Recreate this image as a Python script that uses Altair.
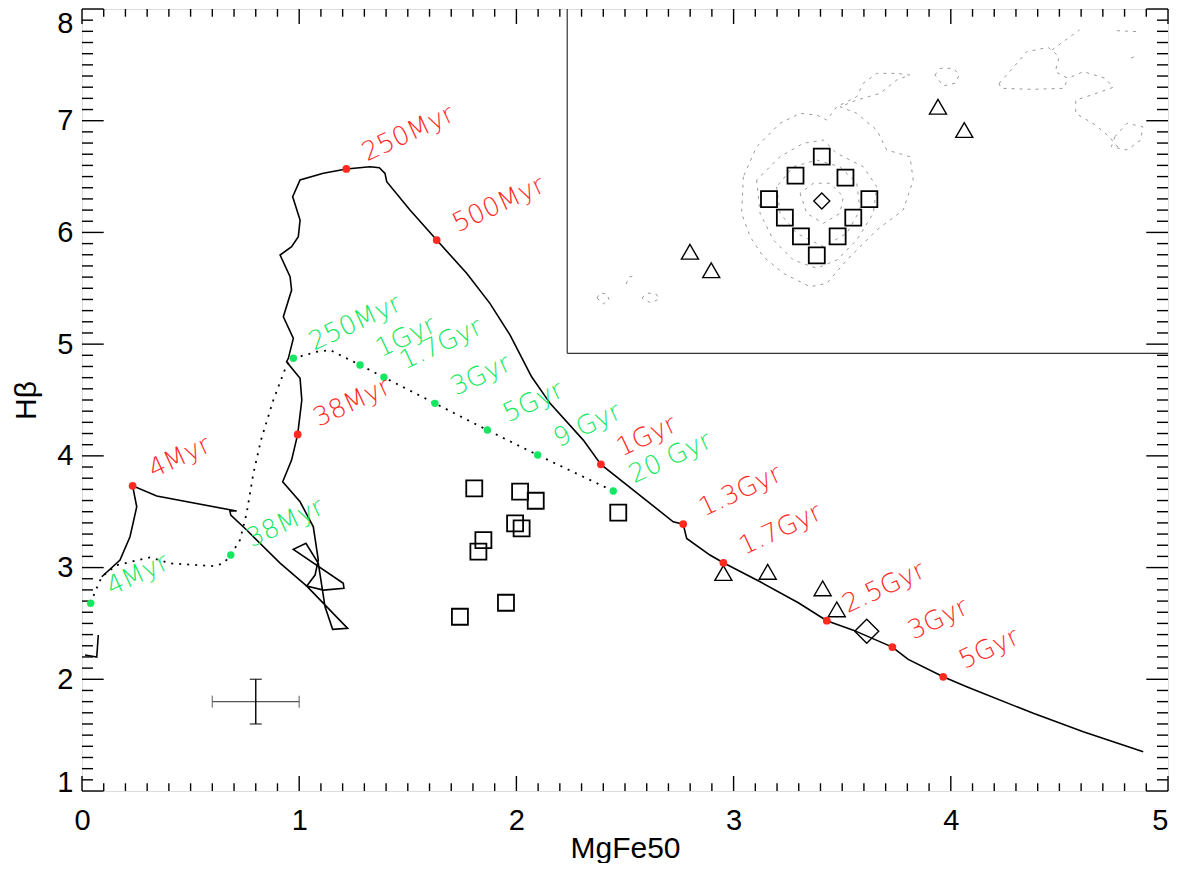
import altair as alt
import pandas as pd

W, H = 1086, 782
FONT = "Liberation Sans"
LFONT = "DejaVu Sans"
RED = "#ff2a1f"
GREEN = "#14e860"

# ---------------- axis ticks ----------------
x_major = [0, 1, 2, 3, 4, 5]
y_major = [1, 2, 3, 4, 5, 6, 7, 8]
x_minor = [round(i * 0.1, 1) for i in range(1, 50) if i % 10]
y_minor = [round(1 + i * 0.1, 1) for i in range(1, 70) if i % 10]

# ---------------- model track 1 (solid, red ages) ----------------
track_x = [0.091, 0.175, 0.221, 0.252, 0.233, 0.344, 0.712, 0.681, 0.685, 0.758,
           0.912, 1.035, 1.223, 1.154, 1.119, 1.088, 1.031, 0.973, 1.203, 1.206,
           1.111, 1.035, 1.073, 1.088, 1.065, 1.004, 0.924, 0.965, 0.993, 1.012,
           1.004, 0.942, 0.950, 0.973, 0.927, 0.965, 0.958, 0.912, 0.965, 0.996,
           1.004, 0.970, 1.004, 1.111, 1.217, 1.326, 1.369, 1.395, 1.403, 1.510,
           1.633, 1.771, 1.878, 1.971, 2.070, 2.155, 2.308, 2.389, 2.722, 2.768,
           2.784, 2.891, 2.953, 3.122, 3.298, 3.429, 3.551, 3.731, 3.789, 3.804,
           3.965, 4.073, 4.380, 4.610, 4.886]
track_y = [2.918, 3.067, 3.276, 3.544, 3.732, 3.640, 3.506, 3.506, 3.470, 3.336,
           3.040, 2.834, 2.456, 2.447, 2.649, 3.038, 3.217, 3.163, 2.859, 2.814,
           2.798, 2.834, 2.933, 3.067, 3.365, 3.589, 3.768, 3.962, 4.192, 4.500,
           4.694, 4.842, 4.873, 5.052, 5.245, 5.484, 5.603, 5.798, 5.872, 5.962,
           6.111, 6.320, 6.469, 6.529, 6.568, 6.588, 6.579, 6.529, 6.454, 6.201,
           5.932, 5.634, 5.365, 5.081, 4.708, 4.470, 4.141, 3.924, 3.410, 3.389,
           3.261, 3.112, 3.043, 2.873, 2.685, 2.524, 2.440, 2.288, 2.201, 2.178,
           2.022, 1.933, 1.695, 1.530, 1.351]
stub_x = [0.075, 0.068, 0.014]
stub_y = [2.396, 2.199, 2.217]

red_label = ["4Myr", "38Myr", "250Myr", "500Myr", "1Gyr", "1.3Gyr", "1.7Gyr",
             "2.5Gyr", "3Gyr", "5Gyr"]
red_x = [0.233, 0.993, 1.217, 1.633, 2.389, 2.768, 2.953, 3.429, 3.731, 3.965]
red_y = [3.732, 4.192, 6.568, 5.932, 3.924, 3.389, 3.043, 2.524, 2.288, 2.022]

# ---------------- model track 2 (dotted, green ages) ----------------
dot_x = [0.040, 0.060, 0.091, 0.160, 0.313, 0.405, 0.605, 0.651, 0.685, 0.727,
         0.758, 0.789, 0.824, 0.881, 0.942, 0.973, 1.081, 1.142, 1.280, 1.390,
         1.625, 1.866, 2.098, 2.446]
dot_y = [2.680, 2.783, 2.918, 3.022, 3.091, 3.038, 3.013, 3.038, 3.112, 3.246,
         3.485, 3.843, 4.141, 4.500, 4.813, 4.873, 4.932, 4.947, 4.813, 4.703,
         4.470, 4.231, 4.007, 3.685]

green_label = ["4Myr", "38Myr", "250Myr", "1Gyr", "1.7Gyr", "3Gyr", "5Gyr",
               "9 Gyr", "20 Gyr"]
green_x = [0.040, 0.685, 0.973, 1.280, 1.390, 1.625, 1.866, 2.098, 2.446]
green_y = [2.680, 3.112, 4.873, 4.813, 4.703, 4.470, 4.231, 4.007, 3.685]

# ---------------- observed points ----------------
sq_x = [1.806, 2.017, 2.089, 1.994, 2.024, 1.848, 1.825, 1.952, 1.740, 2.469]
sq_y = [3.709, 3.679, 3.598, 3.396, 3.351, 3.246, 3.142, 2.685, 2.560, 3.491]
tri_x = [2.953, 3.157, 3.410, 3.475]
tri_y = [2.951, 2.962, 2.814, 2.626]
dia_x = [3.613]
dia_y = [2.431]

# error bar
err_x, err_y, err_dx, err_dy = [0.8], [1.8], [0.2], [0.2]

# ---------------- inset ----------------
inset_left, inset_bottom = 2.234, 4.918
in_sq_x = [3.406, 3.285, 3.515, 3.163, 3.625, 3.236, 3.551, 3.310, 3.479, 3.383]
in_sq_y = [6.678, 6.508, 6.490, 6.299, 6.299, 6.132, 6.132, 5.965, 5.965, 5.795]
in_dia_x = [3.406]
in_dia_y = [6.281]
in_tri_x = [2.799, 2.897, 3.941, 4.062]
in_tri_y = [5.827, 5.661, 7.125, 6.917]

contours = [
    [(3.045, 6.499), (3.037, 6.171), (3.076, 5.962), (3.137, 5.782), (3.229, 5.634),
     (3.352, 5.514), (3.429, 5.544), (3.521, 5.753), (3.659, 6.021), (3.781, 6.201),
     (3.827, 6.469), (3.812, 6.678), (3.705, 6.738), (3.659, 6.917), (3.567, 7.066),
     (3.490, 7.125), (3.567, 7.185), (3.674, 7.245), (3.751, 7.364), (3.812, 7.409),
     (3.751, 7.424), (3.659, 7.424), (3.597, 7.335), (3.567, 7.215), (3.475, 7.125),
     (3.429, 7.006), (3.383, 7.051), (3.306, 7.066), (3.214, 6.977), (3.106, 6.767),
     (3.045, 6.499)],
    [(3.106, 6.469), (3.122, 6.171), (3.183, 5.932), (3.275, 5.753), (3.383, 5.679),
     (3.475, 5.753), (3.567, 5.932), (3.643, 6.171), (3.659, 6.409), (3.597, 6.588),
     (3.475, 6.708), (3.413, 6.827), (3.321, 6.798), (3.214, 6.678), (3.106, 6.469)],
    [(3.198, 6.409), (3.214, 6.171), (3.291, 5.992), (3.413, 5.872), (3.521, 5.992),
     (3.582, 6.201), (3.567, 6.440), (3.490, 6.588), (3.383, 6.648), (3.275, 6.588),
     (3.198, 6.409)],
    [(3.306, 6.350), (3.337, 6.171), (3.413, 6.081), (3.490, 6.171), (3.505, 6.320),
     (3.444, 6.440), (3.367, 6.440), (3.306, 6.350)],
    [(3.927, 7.409), (3.950, 7.469), (4.012, 7.469), (4.039, 7.409), (4.019, 7.335),
     (3.965, 7.311), (3.927, 7.409)],
    [(2.371, 5.413), (2.385, 5.458), (2.417, 5.449), (2.427, 5.395), (2.399, 5.359),
     (2.371, 5.413)],
    [(2.578, 5.413), (2.601, 5.458), (2.643, 5.449), (2.657, 5.404), (2.620, 5.368),
     (2.578, 5.413)],
    [(2.505, 5.538), (2.519, 5.601), (2.537, 5.610)],
    [(4.222, 7.335), (4.285, 7.469), (4.349, 7.618), (4.448, 7.657), (4.499, 7.573),
     (4.481, 7.439), (4.539, 7.380), (4.611, 7.439), (4.711, 7.380), (4.747, 7.299),
     (4.648, 7.230), (4.575, 7.185), (4.575, 7.066), (4.666, 6.962), (4.729, 6.857),
     (4.774, 6.753)],
    [(4.222, 7.335), (4.231, 7.290), (4.376, 7.281), (4.521, 7.290), (4.539, 7.380)],
    [(4.466, 7.633), (4.539, 7.738), (4.593, 7.812)],
    [(4.765, 7.806), (4.865, 7.797)],
    [(4.830, 7.561), (4.865, 7.588)],
    [(4.756, 6.857), (4.811, 6.977), (4.884, 6.946), (4.874, 6.827), (4.811, 6.738),
     (4.739, 6.767), (4.756, 6.857)],
]

# ---------------- scales / axes ----------------
xs = alt.Scale(domain=[0, 5], nice=False, zero=False)
ys = alt.Scale(domain=[1, 8], nice=False, zero=False)
x_axis = alt.Axis(values=x_major, title="MgFe50", grid=False, domain=False,
                  ticks=False, tickSize=0, labelPadding=15, labelFontSize=29,
                  labelFont=FONT, labelColor="black", labelFlush=False,
                  labelAlign={"condition": {"test": "datum.value == 5",
                                            "value": "right"},
                              "value": "center"},
                  titleFont=FONT, titleFontSize=30, titleFontWeight="normal",
                  titleColor="black", titleX=543, titleY=66,
                  titleBaseline="alphabetic", titleAlign="center", format="d")
y_axis = alt.Axis(values=y_major, title="Hβ", grid=False, domain=False,
                  ticks=False, tickSize=0, labelPadding=9, labelFontSize=29,
                  labelFont=FONT, labelColor="black", labelFlush=False,
                  labelBaseline={"condition": [
                      {"test": "datum.value == 8", "value": "top"},
                      {"test": "datum.value == 1", "value": "alphabetic"}],
                      "value": "middle"},
                  titleFont=FONT, titleFontSize=30, titleFontWeight="normal",
                  titleColor="black", titleX=-47, titleY=391, titleAngle=270,
                  titleBaseline="alphabetic", titleAlign="center", format="d")


def X(f):
    return alt.X(f"{f}:Q", scale=xs, axis=x_axis)


def Y(f):
    return alt.Y(f"{f}:Q", scale=ys, axis=y_axis)


# ---------------- data frames ----------------
track_df = pd.DataFrame({"x": track_x, "y": track_y, "i": range(len(track_x))})
stub_df = pd.DataFrame({"x": stub_x, "y": stub_y, "i": range(len(stub_x))})
dot_df = pd.DataFrame({"x": dot_x, "y": dot_y, "i": range(len(dot_x))})
red_df = pd.DataFrame({"x": red_x, "y": red_y, "label": red_label})
green_df = pd.DataFrame({"x": green_x, "y": green_y, "label": green_label})
sq_df = pd.DataFrame({"x": sq_x + in_sq_x, "y": sq_y + in_sq_y})
tri_df = pd.DataFrame({"x": tri_x + in_tri_x, "y": tri_y + in_tri_y})
dia_df = pd.DataFrame({"x": dia_x, "y": dia_y})
in_dia_df = pd.DataFrame({"x": in_dia_x, "y": in_dia_y})

rows = []
for g, path in enumerate(contours):
    for i, (cx, cy) in enumerate(path):
        rows.append({"g": g, "i": i, "x": cx, "y": cy})
cont_df = pd.DataFrame(rows)

inset_df = pd.DataFrame({
    "x": [inset_left, inset_left], "x2": [inset_left, 5.0],
    "y": [8.0, inset_bottom], "y2": [inset_bottom, inset_bottom]})

eh_df = pd.DataFrame({"x": [err_x[0] - err_dx[0]], "x2": [err_x[0] + err_dx[0]],
                      "y": err_y})
ev_df = pd.DataFrame({"x": err_x, "y": [err_y[0] - err_dy[0]],
                      "y2": [err_y[0] + err_dy[0]]})
ecap_h = pd.DataFrame({"x": [err_x[0] - err_dx[0], err_x[0] + err_dx[0]],
                       "y": [err_y[0], err_y[0]]})
ecap_v = pd.DataFrame({"x": [err_x[0], err_x[0]],
                       "y": [err_y[0] - err_dy[0], err_y[0] + err_dy[0]]})

xmaj_df = pd.DataFrame({"v": x_major})
xmin_df = pd.DataFrame({"v": x_minor})
ymaj_df = pd.DataFrame({"v": y_major})
ymin_df = pd.DataFrame({"v": y_minor})

layers = []

# contours in inset
layers.append(alt.Chart(cont_df).mark_line(
    color="#9a9a9a", strokeWidth=1, strokeDash=[3, 5]).encode(
    x=X("x"), y=Y("y"), detail="g:N", order="i:Q"))
# inset border
layers.append(alt.Chart(inset_df).mark_rule(color="#333333", strokeWidth=1.2).encode(
    x=X("x"), x2="x2", y=Y("y"), y2="y2"))

# ticks (inward, all four sides)
TW = 1.4
layers += [
    alt.Chart(xmaj_df).mark_rule(color="black", strokeWidth=TW).encode(
        x=X("v"), y=alt.value(H), y2=alt.value(H - 15)),
    alt.Chart(xmin_df).mark_rule(color="black", strokeWidth=TW).encode(
        x=X("v"), y=alt.value(H), y2=alt.value(H - 7.7)),
    alt.Chart(xmaj_df).mark_rule(color="black", strokeWidth=TW).encode(
        x=X("v"), y=alt.value(0), y2=alt.value(15)),
    alt.Chart(xmin_df).mark_rule(color="black", strokeWidth=TW).encode(
        x=X("v"), y=alt.value(0), y2=alt.value(7.7)),
    alt.Chart(ymaj_df).mark_rule(color="black", strokeWidth=TW).encode(
        y=Y("v"), x=alt.value(0), x2=alt.value(21.7)),
    alt.Chart(ymin_df).mark_rule(color="black", strokeWidth=TW).encode(
        y=Y("v"), x=alt.value(0), x2=alt.value(11)),
    alt.Chart(ymaj_df).mark_rule(color="black", strokeWidth=TW).encode(
        y=Y("v"), x=alt.value(W), x2=alt.value(W - 21.7)),
    alt.Chart(ymin_df).mark_rule(color="black", strokeWidth=TW).encode(
        y=Y("v"), x=alt.value(W), x2=alt.value(W - 11)),
]

# model tracks
layers.append(alt.Chart(track_df).mark_line(color="black", strokeWidth=1.6).encode(
    x=X("x"), y=Y("y"), order="i:Q"))
layers.append(alt.Chart(stub_df).mark_line(color="black", strokeWidth=1.6).encode(
    x=X("x"), y=Y("y"), order="i:Q"))
layers.append(alt.Chart(dot_df).mark_line(
    color="black", strokeWidth=1.8, strokeDash=[2, 6]).encode(
    x=X("x"), y=Y("y"), order="i:Q"))

# error bar
layers.append(alt.Chart(eh_df).mark_rule(color="#555555", strokeWidth=1.4).encode(
    x=X("x"), x2="x2", y=Y("y")))
layers.append(alt.Chart(ev_df).mark_rule(color="black", strokeWidth=1.4).encode(
    x=X("x"), y=Y("y"), y2="y2"))
layers.append(alt.Chart(ecap_h).mark_tick(
    orient="vertical", size=12, thickness=1.4, color="#555555").encode(
    x=X("x"), y=Y("y")))
layers.append(alt.Chart(ecap_v).mark_tick(
    orient="horizontal", size=12, thickness=1.4, color="black").encode(
    x=X("x"), y=Y("y")))

# observed points
layers.append(alt.Chart(sq_df).mark_point(
    shape="square", size=256, filled=False, color="black", strokeWidth=1.8,
    opacity=1).encode(x=X("x"), y=Y("y")))
layers.append(alt.Chart(tri_df).mark_point(
    shape="triangle-up", size=290, filled=False, color="black", strokeWidth=1.4,
    opacity=1).encode(x=X("x"), y=Y("y")))
layers.append(alt.Chart(dia_df).mark_point(
    shape="diamond", size=576, filled=False, color="black", strokeWidth=1.4,
    opacity=1).encode(x=X("x"), y=Y("y")))
layers.append(alt.Chart(in_dia_df).mark_point(
    shape="diamond", size=256, filled=False, color="black", strokeWidth=1.4,
    opacity=1).encode(x=X("x"), y=Y("y")))

# age dots
layers.append(alt.Chart(red_df).mark_circle(size=60, color=RED, opacity=1).encode(
    x=X("x"), y=Y("y")))
layers.append(alt.Chart(green_df).mark_circle(size=55, color=GREEN, opacity=1).encode(
    x=X("x"), y=Y("y")))

# age labels
lab_kw = dict(align="left", baseline="alphabetic", angle=335, dx=22, dy=2,
              fontSize=26, font=LFONT, fontWeight=200)
layers.append(alt.Chart(red_df).mark_text(color=RED, **lab_kw).encode(
    x=X("x"), y=Y("y"), text="label:N"))
layers.append(alt.Chart(green_df).mark_text(color=GREEN, **lab_kw).encode(
    x=X("x"), y=Y("y"), text="label:N"))

chart = alt.layer(*layers).properties(
    width=W, height=H,
    padding={"left": 74, "top": 1, "right": 1, "bottom": 72},
    autosize=alt.AutoSizeParams(type="none"),
    background="white",
).configure_view(stroke="black", strokeWidth=2).configure(font=FONT)

chart.save("out.html", embed_options={"renderer": "svg", "actions": False})
